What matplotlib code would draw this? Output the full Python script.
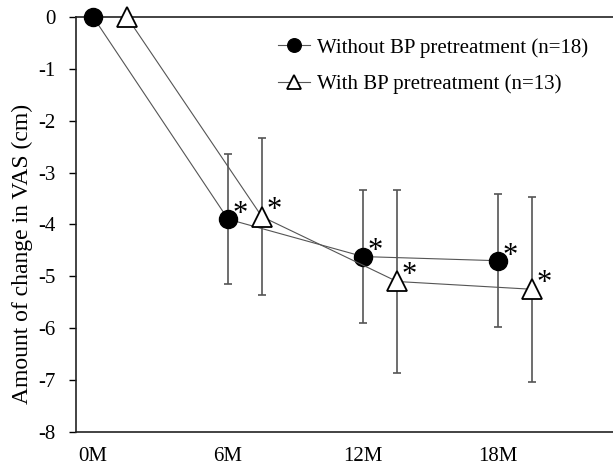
import matplotlib
matplotlib.use('Agg')
import matplotlib.pyplot as plt
import numpy as np

plt.rcParams['font.family'] = ['Liberation Serif', 'DejaVu Serif']
plt.rcParams['axes.unicode_minus'] = False

months = ['0M', '6M', '12M', '18M']

# Without BP pretreatment (n=18)
without_mean = [0, -3.90, -4.62, -4.70]
without_sd = [0, 1.25, 1.28, 1.28]

# With BP pretreatment (n=13)
with_mean = [0, -3.85, -5.10, -5.25]
with_sd = [0, 1.52, 1.77, 1.78]

# which points carry a significance star
without_star = [False, True, True, True]
with_star = [False, True, True, True]

x = np.arange(len(months))
shift = 0.25

fig = plt.figure(figsize=(6.13, 4.68), dpi=100)
ax = fig.add_axes([0.124, 0.077, 0.876, 0.887])

x1 = x
x2 = x + shift

ax.errorbar(x1[1:], without_mean[1:], yerr=without_sd[1:], fmt='none',
            ecolor='#555555', elinewidth=1.2, capsize=3, capthick=1.2, zorder=2)
ax.errorbar(x2[1:], with_mean[1:], yerr=with_sd[1:], fmt='none',
            ecolor='#555555', elinewidth=1.2, capsize=3, capthick=1.2, zorder=2)

ax.plot(x1, without_mean, color='#555555', lw=0.8, marker='o', markersize=13,
        markerfacecolor='black', markeredgecolor='black', clip_on=False, zorder=4,
        label='Without BP pretreatment (n=18)')
ax.plot(x2, with_mean, color='#555555', lw=0.8, marker='^', markersize=14,
        markerfacecolor='white', markeredgecolor='black', markeredgewidth=1.3,
        clip_on=False, zorder=4, label='With BP pretreatment (n=13)')

for xi, yi, s in zip(x1, without_mean, without_star):
    if s:
        ax.annotate('*', (xi, yi), xytext=(8.5, -2), textcoords='offset points',
                    fontsize=22, ha='center', va='baseline')
for xi, yi, s in zip(x2, with_mean, with_star):
    if s:
        ax.annotate('*', (xi, yi), xytext=(9, -1), textcoords='offset points',
                    fontsize=22, ha='center', va='baseline')

ax.set_xlim(-0.126, 3.85)
ax.set_ylim(-8, 0)
ax.set_xticks(x)
ax.set_xticklabels(months)
ax.set_yticks(np.arange(-8, 1, 1))
ax.tick_params(axis='x', length=0, pad=11, labelsize=15)
ax.tick_params(axis='y', length=5, width=1, direction='out', labelsize=15, pad=10)

ax.spines['right'].set_visible(False)
for sp in ['left', 'top', 'bottom']:
    ax.spines[sp].set_linewidth(1.2)
    ax.spines[sp].set_color('#222222')

ax.set_ylabel('Amount of change in VAS (cm)', fontsize=17)
ax.yaxis.set_label_coords(-0.08, 0.43)

leg = ax.legend(loc='upper left', bbox_to_anchor=(278 / 613, 1 - 38 / 468),
                bbox_transform=fig.transFigure, frameon=False, borderpad=0,
                borderaxespad=0, fontsize=15, handlelength=1.55,
                handletextpad=0.3, labelspacing=0.8, markerscale=0.75)

fig.savefig('out.png', dpi=100)
